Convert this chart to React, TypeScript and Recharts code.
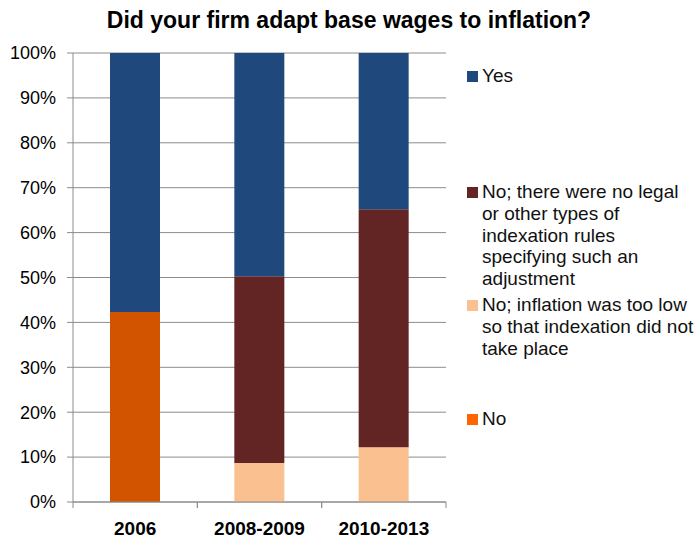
import { BarChart, Bar, XAxis, YAxis, CartesianGrid, Legend } from 'recharts'

const categories = ['2006', '2008-2009', '2010-2013']
const noValues = [42.3, 0, 0]
const tooLowValues = [0, 8.7, 12.2]
const noRulesValues = [0, 41.6, 53.0]
const yesValues = [57.7, 49.7, 34.8]
const yTicks = [0, 10, 20, 30, 40, 50, 60, 70, 80, 90, 100]

const series = [
  { key: 'no', name: 'No', color: '#D35400', swatch: '#FF6600' },
  { key: 'tooLow', name: 'No; inflation was too low\nso that indexation did not\ntake place', color: '#FAC090', swatch: '#FAC090' },
  { key: 'noRules', name: 'No; there were no legal\nor other types of\nindexation rules\nspecifying such an\nadjustment', color: '#632523', swatch: '#632523' },
  { key: 'yes', name: 'Yes', color: '#1F497D', swatch: '#1F497D' },
]

const data = categories.map((c, i) => ({
  category: c,
  no: noValues[i],
  tooLow: tooLowValues[i],
  noRules: noRulesValues[i],
  yes: yesValues[i],
}))

const W = 698
const H = 538
const MARGIN = { top: 53, right: 252, bottom: 0, left: 0 }
const Y_AXIS_W = 73
const BAND = (W - MARGIN.right - MARGIN.left - Y_AXIS_W) / categories.length
const FONT = "'Liberation Sans', Arial, sans-serif"
const GRID = '#8C8C8C'

// legend rows sit at fixed heights like the original
const legendTops: Record<string, number> = { yes: 65, noRules: 181, tooLow: 294, no: 408 }

function CategoryTick({ x, y, payload }: { x?: number; y?: number; payload?: { value: string } }) {
  const cx = x ?? 0
  const cy = y ?? 0
  return (
    <g>
      <line x1={cx - BAND / 2} y1={cy} x2={cx - BAND / 2} y2={cy + 6} stroke={GRID} />
      <line x1={cx + BAND / 2} y1={cy} x2={cx + BAND / 2} y2={cy + 6} stroke={GRID} />
      <text x={cx} y={cy + 33} textAnchor="middle" fill="#000" fontFamily={FONT} fontSize={19} fontWeight="bold">
        {payload?.value}
      </text>
    </g>
  )
}

function SideLegend() {
  return (
    <div style={{ position: 'relative', width: 240, height: H, fontFamily: FONT, fontSize: 19, lineHeight: '21.8px', color: '#111' }}>
      {[...series].reverse().map((s) => (
        <div key={s.key} style={{ position: 'absolute', left: 0, top: legendTops[s.key], display: 'flex' }}>
          <div style={{ width: 11, height: 11, background: s.swatch, marginTop: 5.5, marginRight: 4, flexShrink: 0 }} />
          <div style={{ whiteSpace: 'pre-line' }}>{s.name}</div>
        </div>
      ))}
    </div>
  )
}

export default function App() {
  return (
    <div style={{ position: 'absolute', left: 0, top: 0, width: W, height: H, background: '#fff' }}>
      <div
        style={{
          position: 'absolute',
          left: 0,
          top: 7,
          width: W,
          textAlign: 'center',
          fontFamily: FONT,
          fontWeight: 'bold',
          fontSize: 23,
          color: '#000',
          zIndex: 1,
        }}
      >
        Did your firm adapt base wages to inflation?
      </div>
      <BarChart width={W} height={H} data={data} margin={MARGIN} barSize={50}>
        <CartesianGrid vertical={false} stroke={GRID} strokeWidth={1} />
        <XAxis
          dataKey="category"
          height={H - 502}
          axisLine={{ stroke: GRID }}
          tickLine={false}
          tickSize={0}
          tickMargin={0}
          tick={<CategoryTick />}
          interval={0}
        />
        <YAxis
          width={Y_AXIS_W}
          domain={[0, 100]}
          ticks={yTicks}
          tickFormatter={(v) => `${v}%`}
          axisLine={{ stroke: GRID }}
          tickLine={{ stroke: GRID }}
          tickSize={6}
          tickMargin={11}
          tick={{ fill: '#000', fontFamily: FONT, fontSize: 18 }}
          interval={0}
        />
        <Legend
          layout="vertical"
          align="center"
          verticalAlign="middle"
          wrapperStyle={{ left: 467, top: 0, width: 240, height: H }}
          content={() => <SideLegend />}
        />
        {series.map((s) => (
          <Bar key={s.key} dataKey={s.key} name={s.name} stackId="a" fill={s.color} isAnimationActive={false} />
        ))}
      </BarChart>
    </div>
  )
}
